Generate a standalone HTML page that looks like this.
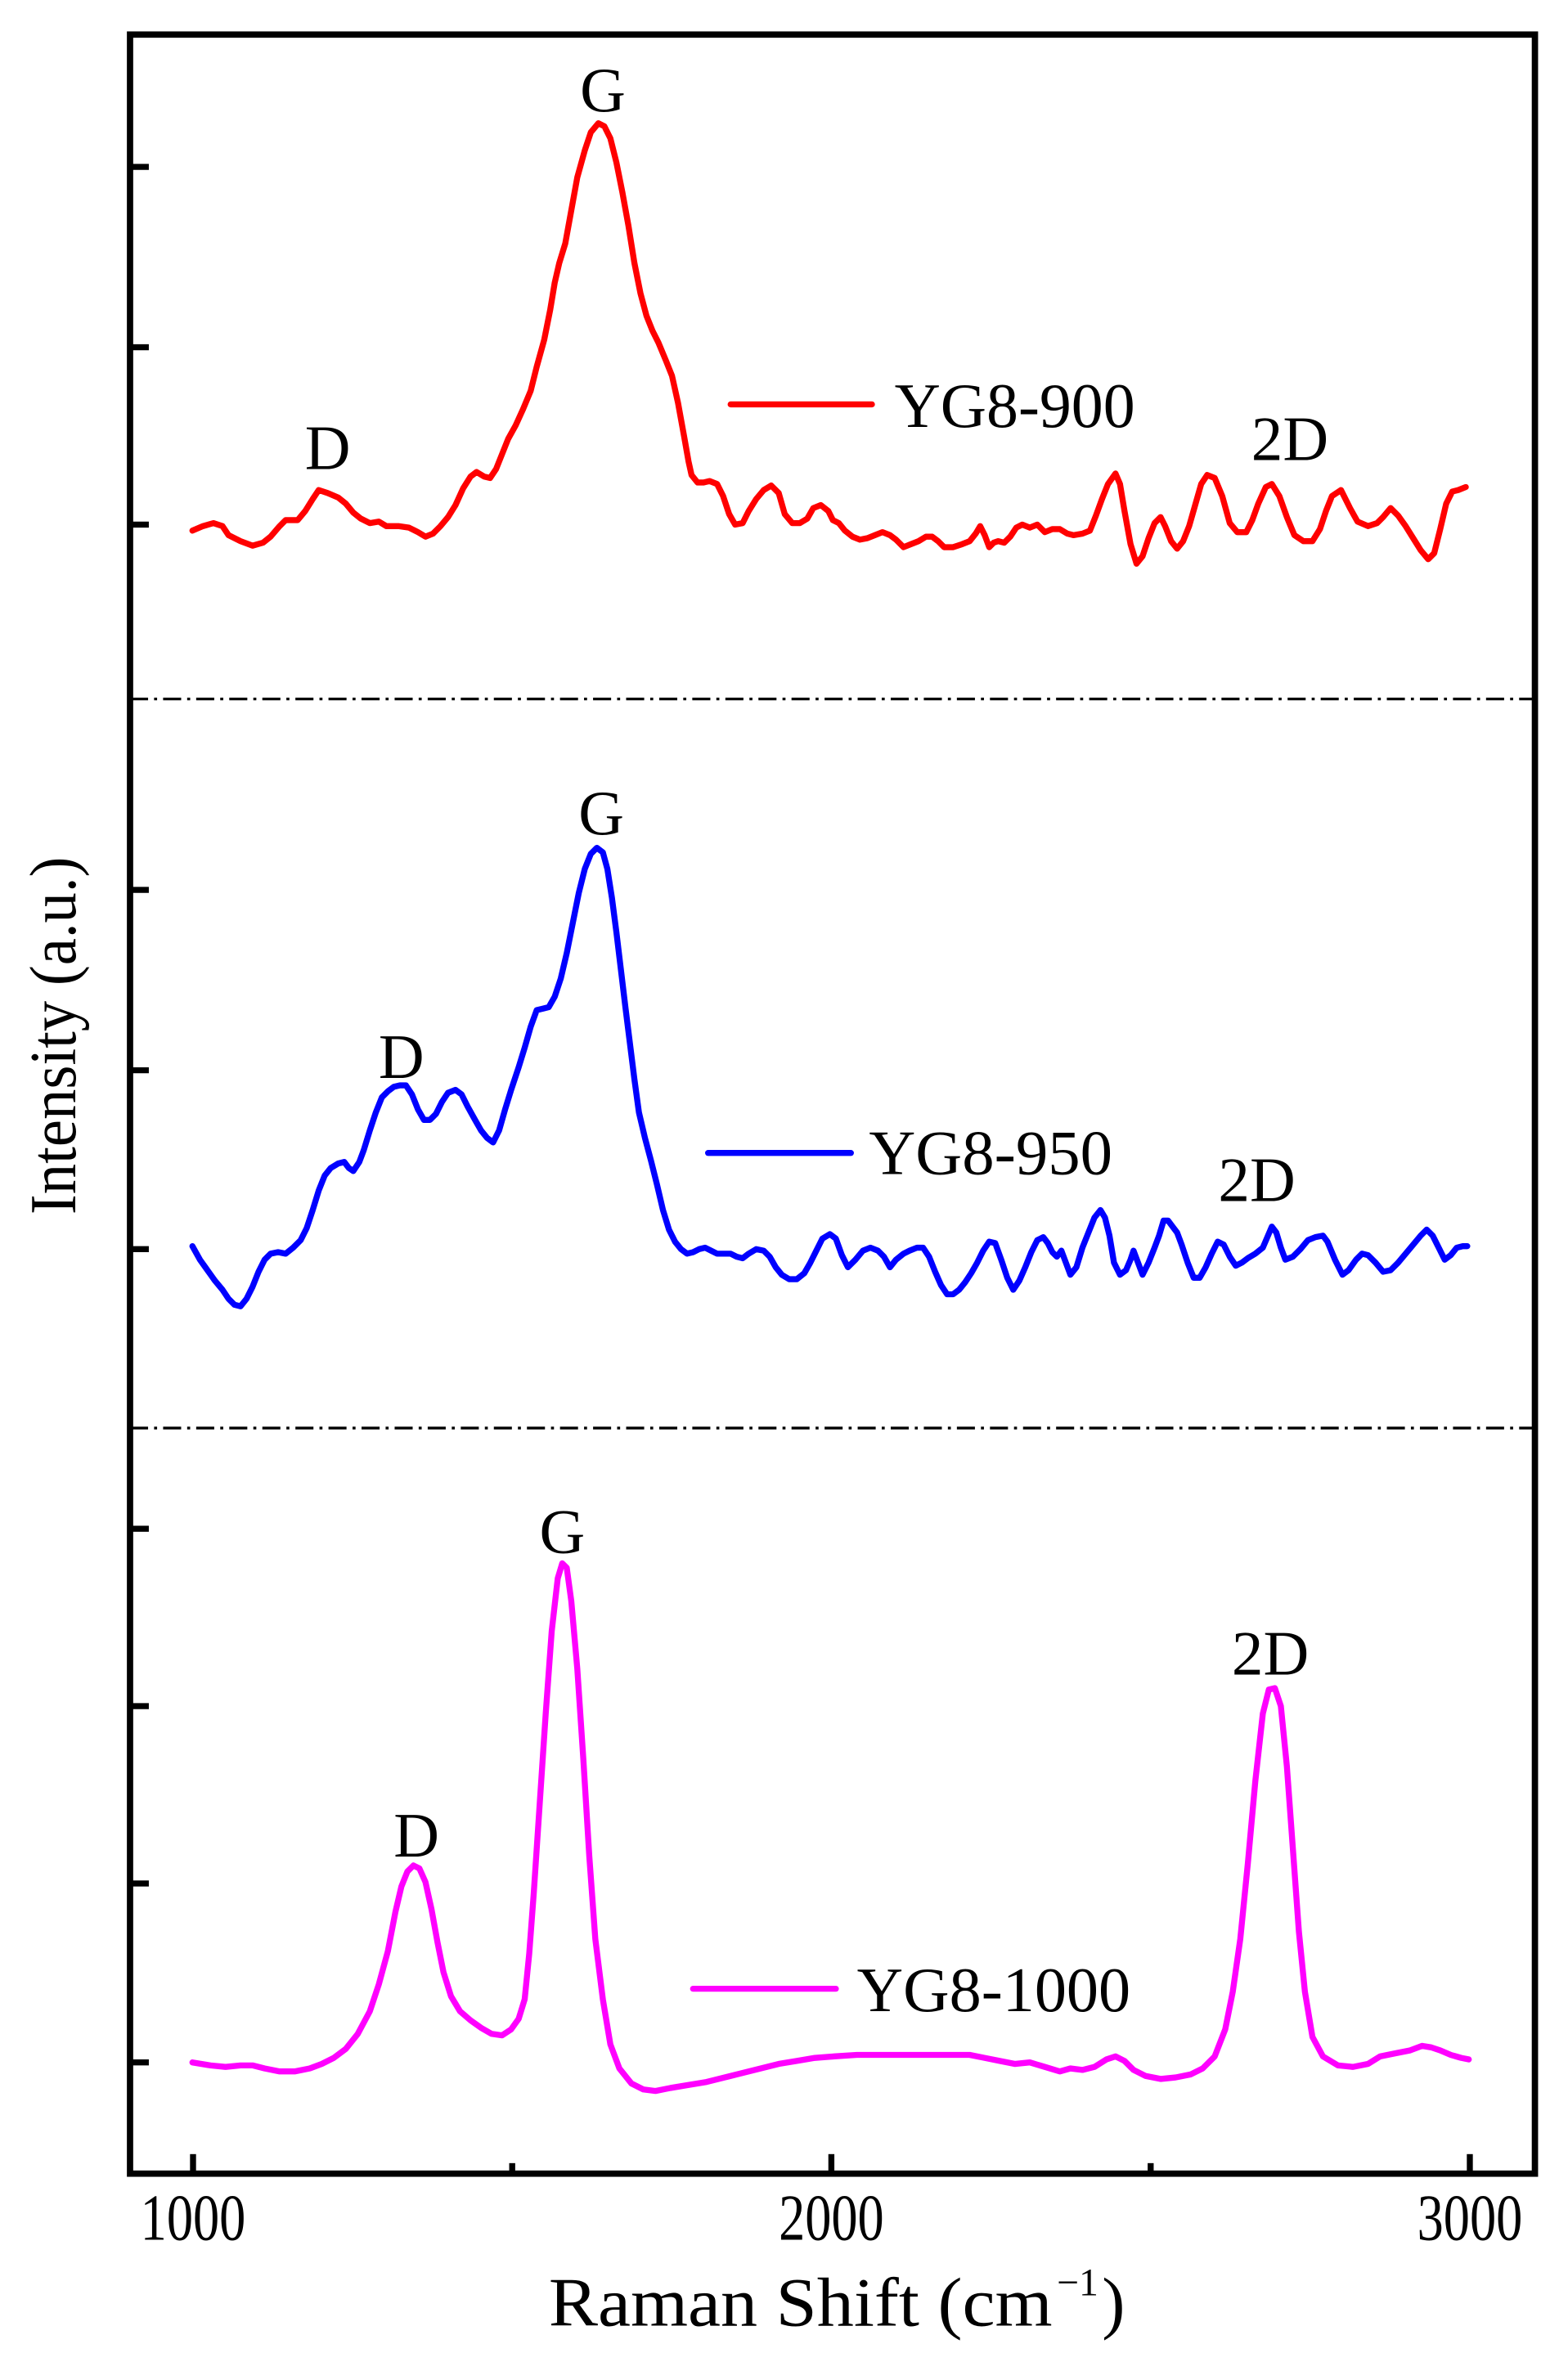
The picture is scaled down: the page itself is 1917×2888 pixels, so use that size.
<!DOCTYPE html>
<html><head><meta charset="utf-8"><style>html,body{margin:0;padding:0;background:#fff}svg{display:block}</style></head>
<body>
<svg width="1917" height="2888" viewBox="0 0 1043 1571.3" xmlns="http://www.w3.org/2000/svg" font-family="'Liberation Serif', serif">
<rect x="0" y="0" width="1043" height="1571.3" fill="#fff"/>
<rect x="86.5" y="23" width="934.5" height="1423" fill="none" stroke="#000" stroke-width="4.2"/>
<g stroke="#000" stroke-width="4">
<line x1="86.5" y1="111" x2="99" y2="111"/><line x1="86.5" y1="231" x2="99" y2="231"/><line x1="86.5" y1="349" x2="99" y2="349"/>
<line x1="86.5" y1="592" x2="99" y2="592"/><line x1="86.5" y1="712" x2="99" y2="712"/><line x1="86.5" y1="831" x2="99" y2="831"/>
<line x1="86.5" y1="1017" x2="99" y2="1017"/><line x1="86.5" y1="1135" x2="99" y2="1135"/><line x1="86.5" y1="1253" x2="99" y2="1253"/><line x1="86.5" y1="1372" x2="99" y2="1372"/>
<line x1="128.4" y1="1446" x2="128.4" y2="1433"/><line x1="553" y1="1446" x2="553" y2="1433"/><line x1="977.7" y1="1446" x2="977.7" y2="1433"/>
<line x1="340.7" y1="1446" x2="340.7" y2="1439"/><line x1="765.4" y1="1446" x2="765.4" y2="1439"/>
</g>
<g stroke="#000" stroke-width="1.8" stroke-dasharray="12 4 2 4">
<line x1="86.5" y1="465" x2="1021" y2="465"/><line x1="86.5" y1="950" x2="1021" y2="950"/>
</g>
<g fill="none" stroke-width="4" stroke-linejoin="round" stroke-linecap="round">
<polyline stroke="#ff0000" points="128,353 135,350 142,348 148,350 152,356 160,360 168,363 175,361 180,357 186,350 190,346 198,346 203,340 208,332 212,326 218,328 225,331 230,335 235,341 240,345 246,348 252,347 257,350 265,350 272,351 278,354 283,357 288,355 293,350 298,344 303,336 308,325 313,317 317,314 322,317 326,318 330,312 334,302 338,292 343,283 348,272 353,260 357,244 362,226 366,206 369,188 372,175 376,162 380,140 384,118 389,100 393,88 398,82 402,84 406,92 410,108 414,128 418,150 422,175 426,195 430,210 434,220 438,228 443,240 447,250 451,268 455,290 458,307 460,316 464,321 468,321 472,320 477,322 481,330 485,342 489,349 494,348 498,340 503,332 508,326 513,323 518,328 522,342 527,348 532,348 537,345 541,338 546,336 551,340 554,346 558,348 562,353 567,357 572,359 577,358 582,356 587,354 592,356 596,359 601,364 606,362 611,360 616,357 620,357 624,360 628,364 634,364 640,362 645,360 649,355 652,350 655,356 658,364 661,361 664,360 668,361 672,357 676,351 680,349 685,351 690,349 695,354 700,352 705,352 710,355 714,356 720,355 725,353 729,343 733,332 737,322 742,315 745,322 748,340 752,362 756,375 760,370 764,358 768,348 772,344 775,350 779,360 783,365 787,360 791,350 795,336 799,322 803,316 808,318 813,330 818,348 823,354 829,354 833,346 837,335 842,324 846,322 851,330 856,344 861,356 867,360 873,360 878,352 882,340 886,330 892,326 898,338 903,347 910,350 916,348 920,344 925,338 930,343 935,350 940,358 945,366 950,372 954,368 958,352 962,335 966,327 970,326 975,324"/>
<polyline stroke="#0000ff" points="128,829 133,838 138,845 143,852 148,858 152,864 156,868 160,869 164,864 168,856 172,846 176,838 180,834 185,833 190,834 195,830 200,825 204,817 208,805 212,792 216,782 220,777 225,774 229,773 232,777 235,779 239,773 242,765 246,752 250,740 254,730 258,726 262,723 266,722 270,722 274,728 278,738 282,745 286,745 290,741 294,733 298,727 303,725 307,728 311,736 316,745 320,752 324,757 328,760 332,752 336,738 340,725 345,710 349,697 353,683 357,672 361,671 365,670 369,663 373,651 377,634 381,614 385,594 389,578 393,568 397,564 401,567 404,578 407,597 410,620 413,645 416,670 419,694 422,718 425,740 429,757 433,772 437,788 441,805 445,818 449,826 453,831 457,834 461,833 465,831 469,830 473,832 477,834 481,834 486,834 490,836 494,837 498,834 503,831 508,832 512,836 516,843 520,848 525,851 530,851 535,847 539,840 543,832 547,824 552,821 556,824 560,835 564,843 569,838 574,832 579,830 584,832 588,836 592,843 596,838 601,834 605,832 610,830 614,830 618,836 622,846 626,855 630,861 634,861 638,858 642,853 646,847 650,840 654,832 658,826 662,827 666,838 670,850 674,858 678,852 682,843 686,833 690,825 694,823 697,827 700,833 703,836 706,832 709,840 712,848 716,843 720,830 724,820 728,810 732,805 735,810 738,822 741,840 745,848 749,845 752,838 754,832 757,840 760,848 764,840 768,830 771,822 774,812 777,812 780,816 783,820 786,828 790,840 794,850 798,850 802,843 806,834 810,826 814,828 818,836 822,842 826,840 830,837 835,834 840,830 843,823 846,816 849,820 852,830 855,838 860,836 865,831 870,825 875,823 880,822 883,826 888,838 893,848 897,845 902,838 906,834 910,835 915,840 920,846 925,845 930,840 935,834 940,828 945,822 949,818 953,822 957,830 961,838 965,835 969,830 973,829 976,829"/>
<polyline stroke="#ff00ff" points="128,1372 140,1374 150,1375 160,1374 168,1374 176,1376 186,1378 196,1378 206,1376 214,1373 222,1369 230,1363 238,1353 246,1338 252,1320 258,1298 263,1272 267,1255 271,1245 275,1241 279,1243 283,1252 287,1270 291,1292 295,1312 300,1328 306,1338 313,1344 320,1349 327,1353 334,1354 340,1350 345,1343 349,1330 352,1300 355,1260 359,1200 363,1140 367,1085 371,1050 374,1040 377,1043 380,1065 384,1110 388,1170 392,1235 396,1290 401,1330 406,1360 412,1376 420,1386 428,1390 436,1391 446,1389 458,1387 470,1385 482,1382 494,1379 506,1376 518,1373 530,1371 542,1369 555,1368 570,1367 590,1367 610,1367 630,1367 645,1367 655,1369 665,1371 675,1373 685,1372 695,1375 705,1378 712,1376 720,1377 728,1375 736,1370 742,1368 748,1371 754,1377 762,1381 772,1383 782,1382 792,1380 800,1376 808,1368 815,1350 820,1325 825,1290 830,1240 835,1185 840,1140 844,1124 848,1123 852,1135 856,1175 860,1230 864,1285 868,1325 873,1355 880,1368 890,1374 900,1375 910,1373 918,1368 928,1366 938,1364 946,1361 952,1362 958,1364 965,1367 972,1369 977,1370"/>
</g>
<g stroke-width="4" stroke-linecap="round">
<line x1="486" y1="269" x2="580" y2="269" stroke="#ff0000"/>
<line x1="471" y1="767" x2="566" y2="767" stroke="#0000ff"/>
<line x1="461" y1="1323" x2="556" y2="1323" stroke="#ff00ff"/>
</g>
<g font-size="42" fill="#000">
<text x="595" y="284" textLength="160" lengthAdjust="spacingAndGlyphs">YG8-900</text>
<text x="578" y="781" textLength="162" lengthAdjust="spacingAndGlyphs">YG8-950</text>
<text x="570" y="1338" textLength="182" lengthAdjust="spacingAndGlyphs">YG8-1000</text>
<g text-anchor="middle">
<text x="401" y="74">G</text>
<text x="218" y="312">D</text>
<text x="858" y="306">2D</text>
<text x="400" y="555">G</text>
<text x="267" y="717">D</text>
<text x="836" y="799">2D</text>
<text x="374" y="1033">G</text>
<text x="277" y="1235">D</text>
<text x="845" y="1114">2D</text>
</g>
<g text-anchor="middle" font-size="44">
<text x="128.4" y="1490" textLength="70" lengthAdjust="spacingAndGlyphs">1000</text>
<text x="553" y="1490" textLength="70" lengthAdjust="spacingAndGlyphs">2000</text>
<text x="977.7" y="1490" textLength="70" lengthAdjust="spacingAndGlyphs">3000</text>
</g>
</g>
<text x="365" y="1547" font-size="46" textLength="335" lengthAdjust="spacingAndGlyphs">Raman Shift (cm</text>
<text x="703" y="1527" font-size="26">−1</text>
<text x="733" y="1547" font-size="46">)</text>
<text transform="translate(50,689) rotate(-90)" text-anchor="middle" font-size="44" textLength="238" lengthAdjust="spacingAndGlyphs">Intensity (a.u.)</text>
</svg>
</body></html>
